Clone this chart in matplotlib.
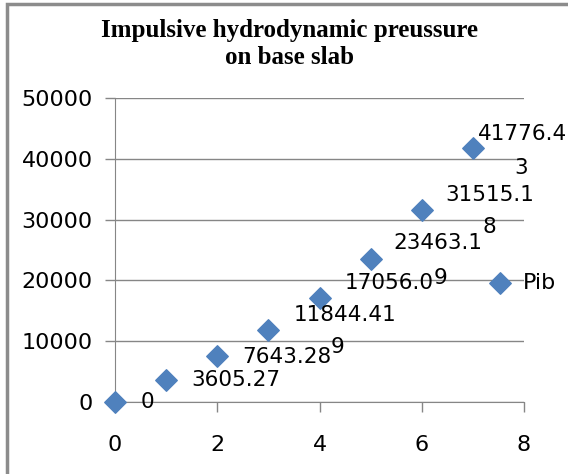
import matplotlib
matplotlib.use("Agg")
from matplotlib import pyplot as plt
from matplotlib.patches import Rectangle

# data
x = [0, 1, 2, 3, 4, 5, 6, 7]
pib = [0, 3605.27, 7643.289, 11844.41, 17056.09, 23463.19, 31515.18, 41776.43]
# label text as it shows (excel wraps some of them)
lab_main = ["0", "3605.27", "7643.28", "11844.41", "17056.0", "23463.1", "31515.1", "41776.4"]
lab_tail = ["", "", "9", "", "", "9", "8", "3"]

# pixel offsets of the label pieces from their point
main_off = [(32, 0, "center"), (25, 0, "left"), (25, -1, "left"), (25, 15, "left"),
            (25, 15, "left"), (23, 16, "left"), (24, 15, "left"), (5, 14, "left")]
tail_off = [None, None, (120, 9), None, None, (70, -19), (68, -17), (48, -20)]

blue = "#4f81bd"
grid = "#868686"

fig = plt.figure(figsize=(5.68, 4.74), dpi=100)
ax = fig.add_axes([115 / 568, 1 - 402 / 474, 409 / 568, 304 / 474])

ax.scatter(x, pib, marker="D", s=120, color=blue, zorder=3, clip_on=False, label="Pib")

for i in range(len(x)):
    dx, dy, ha = main_off[i]
    ax.annotate(lab_main[i], (x[i], pib[i]), xytext=(dx, dy), textcoords="offset pixels",
                ha=ha, va="center", fontsize=15.5, annotation_clip=False)
    if lab_tail[i]:
        tx, ty = tail_off[i]
        ax.annotate(lab_tail[i], (x[i], pib[i]), xytext=(tx, ty), textcoords="offset pixels",
                    ha="center", va="center", fontsize=15.5, annotation_clip=False)

ax.set_xlim(0, 8)
ax.set_ylim(0, 50000)
ax.set_xticks([0, 2, 4, 6, 8])
ax.set_yticks([0, 10000, 20000, 30000, 40000, 50000])
ax.grid(axis="y", color=grid, lw=1)
ax.set_axisbelow(True)
for s in ["top", "right"]:
    ax.spines[s].set_visible(False)
for s in ["left", "bottom"]:
    ax.spines[s].set_color(grid)
ax.tick_params(colors=grid, labelcolor="black", labelsize=16, length=7, width=1, pad=9)
ax.tick_params(axis="x", pad=17)

ax.legend(loc="center left", bbox_to_anchor=(478 / 568, 1 - 283 / 474), bbox_transform=fig.transFigure,
          frameon=False, fontsize=16, handletextpad=0.0, borderpad=0, borderaxespad=0,
          markerscale=1.0)

fig.text(0.51, 1 - 30 / 474, "Impulsive hydrodynamic preussure", ha="center", va="center",
         fontsize=18, fontweight="bold", family="Liberation Serif")
fig.text(0.51, 1 - 58 / 474, "on base slab", ha="center", va="center",
         fontsize=18, fontweight="bold", family="Liberation Serif")

fig.patches.append(Rectangle((7 / 568, -0.1), 1.2, 1.1 - 4 / 474, transform=fig.transFigure,
                             fill=False, ec="#8c8c8c", lw=2.5))

fig.savefig("out.png", dpi=100)
